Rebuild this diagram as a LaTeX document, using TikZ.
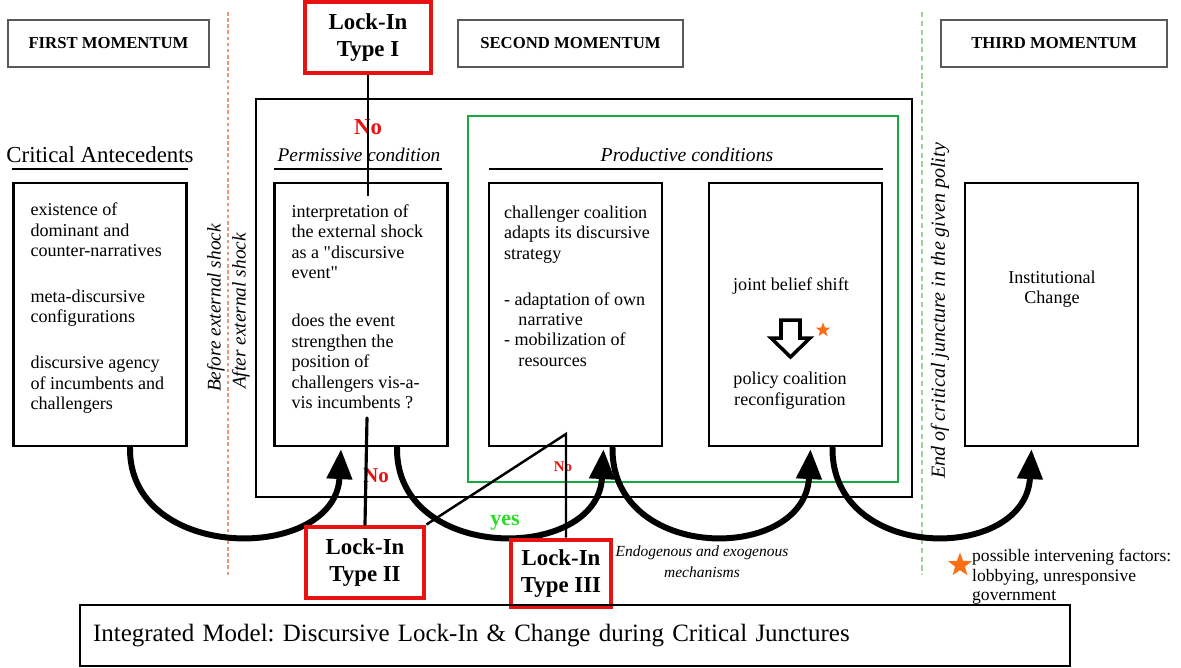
\documentclass[tikz,border=0pt]{standalone}
\usepackage{fontspec}
\setmainfont{Liberation Serif}
\frenchspacing
\usetikzlibrary{
  arrows.meta,
  positioning,
  calc,
  shapes.geometric
}
\definecolor{lockred}{RGB}{232,18,18}
\definecolor{prodgreen}{RGB}{24,168,64}
\definecolor{yesgreen}{RGB}{40,220,40}
\definecolor{shockline}{RGB}{240,150,120}
\definecolor{endline}{RGB}{160,210,160}
\definecolor{factor}{RGB}{250,110,20}

\begin{document}
\begin{tikzpicture}[
  x=0.02cm, y=-0.02cm,
  every node/.style={font=\fontsize{10.3}{11.6}\selectfont},
  momentbox/.style={draw=black!65, line width=0.8pt, minimum height=0.94cm,
                    font=\fontsize{9.5}{11}\selectfont\bfseries},
  stagebox/.style={draw, line width=1.4pt, minimum width=3.46cm,
                   minimum height=5.26cm, inner sep=0pt},
  lockbox/.style={draw=lockred, line width=2.8pt, align=center, inner sep=0pt,
                  font=\fontsize{13}{15}\selectfont\bfseries},
  flow/.style={line width=3.4pt, -{Triangle[length=17pt,width=14pt]}},
  verdict/.style={text=lockred, font=\fontsize{12}{14}\selectfont\bfseries},
  shocklabel/.style={rotate=90, font=\fontsize{11}{13}\selectfont\itshape},
  factorstar/.style={star, star points=5, star point ratio=2.4, fill=factor,
                     draw=none, inner sep=0pt}
]
\useasboundingbox (0,0) rectangle (1181,667);

% momentum headers
\node[momentbox, minimum width=4.02cm] (m1) at (108.5,43.5) {FIRST MOMENTUM};
\node[momentbox, minimum width=4.5cm] (m2) at (570.5,43.5) {SECOND MOMENTUM};
\node[momentbox, minimum width=4.52cm] (m3) at (1054,43.5) {THIRD MOMENTUM};

% time borders
\draw[shockline, line width=1pt, dash pattern=on 2pt off 1.5pt] (228,12) -- (228,575);
\draw[endline, line width=1pt, dash pattern=on 3pt off 2pt] (922,12) -- (922,575);

% critical juncture frame
\node[draw, line width=1.2pt, minimum width=13.12cm, minimum height=7.96cm]
  (window) at (584,298) {};
\node[draw=prodgreen, line width=1.2pt, minimum width=8.6cm, minimum height=7.32cm]
  (productive) at (683,299) {};

% stages
\node[stagebox] (antecedents) at (100,314.5) {%
  \parbox[c][4.46cm][t]{2.78cm}{\raggedright
  existence of\\ dominant and\\ counter-narratives\\[14.5pt]
  meta-discursive\\ configurations\\[14.5pt]
  discursive agency\\ of incumbents and\\ challengers}};

\node[stagebox] (permissive) at (361,314.5) {%
  \parbox[c][4.4cm][t]{2.78cm}{\raggedright
  interpretation of\\ the external shock\\ as a \textquotedbl discursive\\ event\textquotedbl\\[16pt]
  does the event\\ strengthen the\\ position of\\ challengers vis-a-\\ vis incumbents ?}};

\node[stagebox] (strategy) at (575.5,314.5) {%
  \parbox[c][4.34cm][t]{2.86cm}{\raggedright
  \mbox{challenger coalition}\\ \mbox{adapts its discursive}\\ strategy\\[14.5pt]
  - adaptation of own\\ \hspace*{0.8em}narrative\\
  - mobilization of\\ \hspace*{0.8em}resources}};

\node[stagebox] (belief) at (795.5,314.5) {};
\node[stagebox] (change) at (1051.5,314.5) {};

\node (shift) at (791,286) {joint belief shift};
\node[align=center] (coalition) at (790,390.5) {policy coalition\\reconfiguration};
\draw[line width=2pt, line join=miter]
  (781,320) -- (800,320) -- (800,338) -- (810,338) -- (790.5,357)
  -- (771,338) -- (781,338) -- cycle;
\node[factorstar, minimum size=0.3cm] (star1) at (823,330) {};

\node[align=center] (inst) at (1052,289) {Institutional\\Change};

% column titles
\node[font=\fontsize{13}{15}\selectfont] (crit) at (100,155) {Critical Antecedents};
\node[font=\fontsize{11}{13}\selectfont\itshape] (perm) at (359,155) {Permissive condition};
\node[font=\fontsize{11.2}{13}\selectfont\itshape] (prod) at (687,155) {Productive conditions};
\draw[line width=0.8pt] ($(antecedents.north west)+(0,-13)$) -- ($(antecedents.north east)+(0,-13)$);
\draw[line width=0.8pt] ($(permissive.north west)+(1,-13)$) -- ($(permissive.north east)+(-7,-13)$);
\draw[line width=0.8pt] ($(strategy.north west)+(1,-13)$) -- ($(belief.north east)+(0,-13)$);

% shock labels
\node[shocklabel] (before) at (216,308) {Before external shock};
\node[shocklabel] (after) at (241,311) {After external shock};
\node[shocklabel, font=\fontsize{11.4}{13}\selectfont\itshape] (endcj) at (940,311)
  {End of critical juncture in the given polity};

% mechanisms
\draw[flow] ($(antecedents.south)+(30,0)$) .. controls +(-2,116) and +(-6,114) .. ($(permissive.south)+(-20,2)$);
\draw[flow] ($(permissive.south)+(36,0)$) .. controls +(-2,116) and +(-6,114) .. ($(strategy.south)+(28,2)$);
\draw[flow] ($(strategy.south)+(37,0)$) .. controls +(-2,116) and +(-6,114) .. ($(belief.south)+(15,2)$);
\draw[flow] ($(belief.south)+(37,0)$) .. controls +(-2,116) and +(-6,114) .. ($(change.south)+(-20,2)$);

\node[align=center, font=\fontsize{8.8}{12}\selectfont\itshape] (mech) at (702,562)
  {Endogenous and exogenous\\mechanisms};

% lock-in outcomes
\node[lockbox, minimum width=2.52cm, minimum height=1.42cm] (lk1) at (368,37.5) {Lock-In\\Type I};
\node[lockbox, minimum width=2.36cm, minimum height=1.42cm] (lk2) at (365,562.5) {Lock-In\\Type II};
\node[lockbox, minimum width=2.0cm, minimum height=1.34cm] (lk3) at (561,573.5) {Lock-In\\Type III};

\node[verdict, font=\fontsize{13}{15}\selectfont\bfseries] (no1) at (368,127) {No};
\node[verdict] (no2) at (376,476) {No};
\node[verdict, font=\fontsize{8.5}{10}\selectfont\bfseries] (no3) at (563,467) {No};
\node[text=yesgreen, font=\fontsize{12.5}{14}\selectfont\bfseries] (yes) at (505,523) {yes};

\coordinate (probe) at (368,196);
\coordinate (tip2) at (367,418);
\coordinate (peak) at (566,434);
\draw[line width=0.9pt] (lk1.south) -- (probe);
\draw[line width=1.8pt, line cap=round] (lk2.north) -- (tip2);
\draw[line width=1.4pt] (lk2.north east) -- (peak) -- (peak |- lk3.north);

% intervening factors
\node[factorstar, minimum size=0.5cm] (star2) at (960,565) {};
\node[anchor=north west, align=left, font=\fontsize{10}{11.2}\selectfont] (factors) at (966,543)
  {possible intervening factors:\\lobbying, unresponsive\\government};

% caption
\node[draw, line width=1.2pt, minimum width=19.8cm, minimum height=1.22cm,
      text width=19.28cm, align=left, font=\fontsize{14.2}{16}\selectfont]
  (model) at (575,635.5)
  {Integrated Model: Discursive Lock-In \& Change during Critical Junctures};

\end{tikzpicture}
\end{document}
